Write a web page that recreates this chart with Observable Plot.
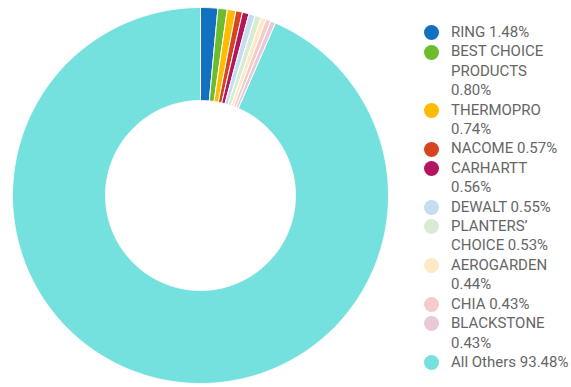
<!DOCTYPE html>
<html>
<head>
<meta charset="utf-8">
<script src="https://cdn.jsdelivr.net/npm/d3@7"></script>
<script src="https://cdn.jsdelivr.net/npm/@observablehq/plot@0.6"></script>
<style>
  html, body { margin: 0; padding: 0; background: #fff; }
  #wrap { position: relative; width: 571px; height: 387px; overflow: hidden; }
  #chart { position: absolute; left: 0; top: 0; }
  #legend { position: absolute; left: 424px; top: 23px; width: 147px;
    font-family: Roboto, "Noto Sans", sans-serif; font-size: 15px; color: #666; }
  .item { display: flex; align-items: flex-start; line-height: 19.4px; }
  .sw { flex: 0 0 auto; width: 15px; height: 15px; border-radius: 50%; margin-top: 2.2px; margin-right: 12px; }
  .lab { flex: 0 0 auto; width: 118.5px; }
</style>
</head>
<body>
<div id="wrap">
  <div id="chart"></div>
  <div id="legend"></div>
</div>
<script>
const brands = ["RING", "BEST CHOICE PRODUCTS", "THERMOPRO", "NACOME", "CARHARTT", "DEWALT",
  "PLANTERS\u2019 CHOICE", "AEROGARDEN", "CHIA", "BLACKSTONE", "All Others"];
const shares = [1.48, 0.80, 0.74, 0.57, 0.56, 0.55, 0.53, 0.44, 0.43, 0.43, 93.48];
const colors = ["#1170c0", "#6cbd2c", "#ffbb00", "#d6451f", "#b3165d", "#c6dcef",
  "#d8ebd3", "#fde9c6", "#f4cdc9", "#e9c8d8", "#74e1df"];

const innerRatio = 95 / 188;

// build slice outlines (in polar-normalized units) from d3.pie angles
const arcs = d3.pie().sort(null).value(d => d)(shares);
const pts = [];
arcs.forEach((a, i) => {
  const n = Math.max(4, Math.ceil((a.endAngle - a.startAngle) / 0.004));
  const ring = [];
  for (let k = 0; k <= n; k++) {
    const t = a.startAngle + (a.endAngle - a.startAngle) * k / n;
    ring.push({brand: brands[i], x: Math.sin(t), y: Math.cos(t)});
  }
  for (let k = n; k >= 0; k--) {
    const t = a.startAngle + (a.endAngle - a.startAngle) * k / n;
    ring.push({brand: brands[i], x: innerRatio * Math.sin(t), y: innerRatio * Math.cos(t)});
  }
  ring.push({...ring[0]});
  pts.push(...ring);
});

const chart = Plot.plot({
  width: 400,
  height: 387,
  marginLeft: 12,
  marginRight: 12,
  marginTop: 7,
  marginBottom: 4,
  x: {domain: [-1, 1], axis: null},
  y: {domain: [-1, 1], axis: null},
  color: {domain: brands, range: colors},
  style: {background: "transparent"},
  marks: [
    Plot.line(pts, {x: "x", y: "y", z: "brand", fill: "brand", stroke: "white", strokeWidth: 1, curve: "linear-closed"})
  ]
});
document.getElementById("chart").appendChild(chart);

const legend = document.getElementById("legend");
brands.forEach((b, i) => {
  const it = document.createElement("div");
  it.className = "item";
  const sw = document.createElement("span");
  sw.className = "sw";
  sw.style.background = colors[i];
  const lab = document.createElement("span");
  lab.className = "lab";
  lab.textContent = b + " " + shares[i].toFixed(2) + "%";
  it.appendChild(sw);
  it.appendChild(lab);
  legend.appendChild(it);
});
</script>
</body>
</html>
